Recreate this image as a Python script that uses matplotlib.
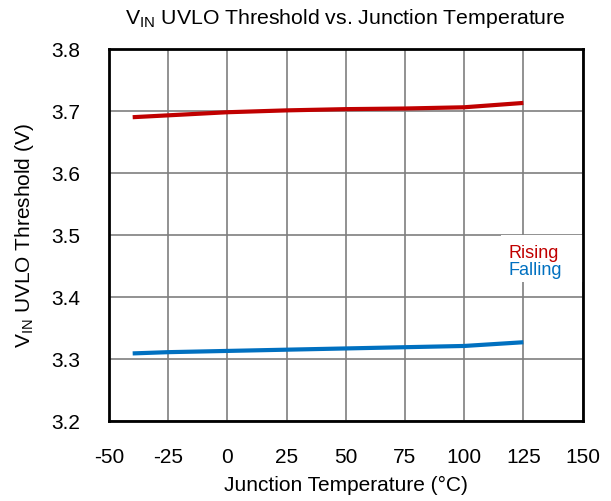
import matplotlib
matplotlib.use("Agg")
import matplotlib.pyplot as plt
from matplotlib.patches import Rectangle

plt.rcParams['font.family'] = ['Liberation Sans', 'DejaVu Sans']
plt.rcParams['axes.unicode_minus'] = False

# data
temps = [-40, -25, 0, 25, 50, 75, 100, 125]
rising = [3.690, 3.693, 3.698, 3.701, 3.703, 3.704, 3.706, 3.713]
falling = [3.309, 3.311, 3.313, 3.315, 3.317, 3.319, 3.321, 3.327]

x_ticks = [-50, -25, 0, 25, 50, 75, 100, 125, 150]
y_ticks = [3.2, 3.3, 3.4, 3.5, 3.6, 3.7, 3.8]

fig = plt.figure(figsize=(6.11, 5.02), dpi=100)
ax = fig.add_axes([0.1784, 0.1594, 0.7750, 0.7410])

ax.plot(temps, rising, color='#C00000', lw=3.0, label='Rising', solid_capstyle='butt')
ax.plot(temps, falling, color='#0070C0', lw=3.0, label='Falling', solid_capstyle='butt')

ax.set_xlim(-50, 150)
ax.set_ylim(3.2, 3.8)
ax.set_xticks(x_ticks)
ax.set_yticks(y_ticks)
ax.set_yticklabels([f"{v:.1f}" for v in y_ticks])
ax.tick_params(length=0, labelsize=15)
ax.tick_params(axis='x', pad=18.5)
ax.tick_params(axis='y', pad=20.5)
ax.grid(True, color='#7f7f7f', lw=1.2)
ax.set_axisbelow(True)
for s in ax.spines.values():
    s.set_linewidth(2)
    s.set_color('black')

ax.set_title(r'$\mathregular{V_{IN}}$ UVLO Threshold vs. Junction Temperature', fontsize=15.3, pad=18.5)
ax.set_xlabel('Junction Temperature (°C)', fontsize=15, labelpad=7)
ax.set_ylabel(r'$\mathregular{V_{IN}}$ UVLO Threshold (V)', fontsize=15, labelpad=11)

# white box behind the legend text, cutting the grid like the original
ax.add_patch(Rectangle((0.828, 0.374), 0.172, 0.126, transform=ax.transAxes,
                       facecolor='white', edgecolor='none', zorder=2))
leg = ax.legend(loc='upper left', bbox_to_anchor=(0.828, 0.495), borderaxespad=0,
                handlelength=0, handletextpad=0, fontsize=13, labelcolor='linecolor',
                frameon=False, borderpad=0.4, labelspacing=0.0)
for h in leg.legend_handles:
    h.set_visible(False)

fig.savefig('out.png', dpi=100)
